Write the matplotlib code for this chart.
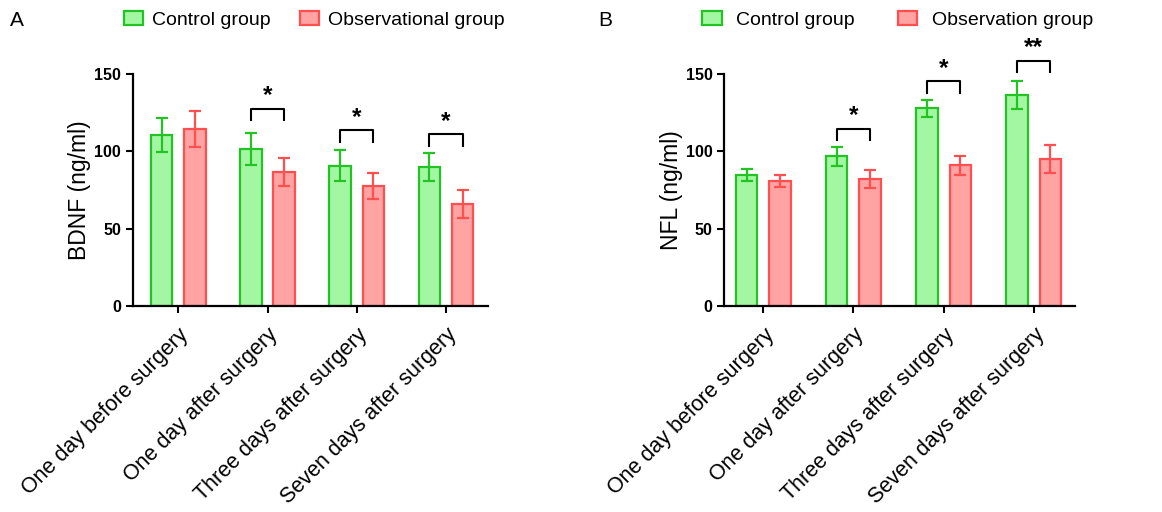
import matplotlib.pyplot as plt
import matplotlib.transforms as mtransforms
import numpy as np

plt.rcParams['font.family'] = ['Liberation Sans', 'DejaVu Sans']

# dados
categorias = ['One day before surgery', 'One day after surgery',
              'Three days after surgery', 'Seven days after surgery']

bdnf_controle = [110.5, 101.5, 90.8, 89.8]
bdnf_controle_err = [11, 10.5, 10, 9]
bdnf_obs = [114.5, 86.5, 77.5, 66]
bdnf_obs_err = [11.5, 9, 8.5, 9]

nfl_controle = [84.7, 96.7, 127.8, 136.5]
nfl_controle_err = [4, 6, 5.5, 9]
nfl_obs = [81, 82, 91, 95.2]
nfl_obs_err = [4, 6, 6, 9]

# significancia: (indice da categoria, altura do colchete, texto)
bdnf_sig = [(1, 127.5, '*'), (2, 113.5, '*'), (3, 111, '*')]
nfl_sig = [(1, 114.6, '*'), (2, 145.3, '*'), (3, 158.6, '**')]

verde_borda, verde = '#22c322', '#a3f7a3'
verm_borda, verm = '#ff4f4f', '#ffa3a3'

fig = plt.figure(figsize=(11.62, 5.12), dpi=100)
axA = fig.add_axes([0.1142, 0.4023, 0.3058, 0.4531])
axB = fig.add_axes([0.6233, 0.4023, 0.3020, 0.4531])


def painel(ax, ctrl, ctrl_err, obs, obs_err, sig, ylabel, nome_obs, xlim,
           leg_x, txtpad, colsp):
    x = np.arange(len(categorias))
    w = 0.24
    d = 0.186
    ax.bar(x - d, ctrl, w, color=verde, edgecolor=verde_borda, linewidth=1.6,
           label='Control group')
    ax.bar(x + d, obs, w, color=verm, edgecolor=verm_borda, linewidth=1.6,
           label=nome_obs)
    ax.errorbar(x - d, ctrl, yerr=ctrl_err, fmt='none', ecolor=verde_borda,
                elinewidth=1.6, capsize=4.3, capthick=1.6)
    ax.errorbar(x + d, obs, yerr=obs_err, fmt='none', ecolor=verm_borda,
                elinewidth=1.6, capsize=4.3, capthick=1.6)

    for i, h, txt in sig:
        x1, x2 = i - d, i + d
        ax.plot([x1, x1, x2, x2], [h - 7.5, h, h, h - 7.5], color='black',
                lw=1.5, clip_on=False)
        ax.text(i, h + 1.0, txt, ha='center', va='bottom', fontsize=17.5,
                fontweight='bold', clip_on=False)

    ax.set_ylim(0, 150)
    ax.set_yticks([0, 50, 100, 150])
    ax.set_xlim(*xlim)
    ax.set_xticks(x)
    ax.set_xticklabels(categorias, rotation=45, ha='right',
                       rotation_mode='anchor', fontsize=15.5)
    # desloca um pouco os rotulos para a esquerda/baixo
    desloc = mtransforms.ScaledTranslation(-5 / 100, -3 / 100, fig.dpi_scale_trans)
    for lbl in ax.get_xticklabels():
        lbl.set_transform(lbl.get_transform() + desloc)
    for lbl in ax.get_yticklabels():
        lbl.set_fontweight('bold')
        lbl.set_fontsize(11.5)
    ax.set_ylabel(ylabel, fontsize=16.5, labelpad=2)
    ax.spines['top'].set_visible(False)
    ax.spines['right'].set_visible(False)
    ax.spines['left'].set_linewidth(1.6)
    ax.spines['bottom'].set_linewidth(1.6)
    ax.tick_params(axis='both', direction='out', length=5, width=1.5)
    ax.tick_params(axis='x', pad=8)
    ax.legend(loc='center', bbox_to_anchor=(leg_x, 1.233), ncol=2,
              frameon=False, fontsize=14, handlelength=1.0, handleheight=0.7,
              handletextpad=txtpad, columnspacing=colsp)


painel(axA, bdnf_controle, bdnf_controle_err, bdnf_obs, bdnf_obs_err, bdnf_sig,
       'BDNF (ng/ml)', 'Observational group', (-0.51, 3.47), 0.51, 0.45, 1.5)
painel(axB, nfl_controle, nfl_controle_err, nfl_obs, nfl_obs_err, nfl_sig,
       'NFL (ng/ml)', 'Observation group', (-0.433, 3.46), 0.494, 0.75, 2.2)

fig.text(10 / 1162, 1 - 20 / 512, 'A', fontsize=15, va='center', ha='left')
fig.text(598 / 1162, 1 - 20 / 512, 'B', fontsize=15, va='center', ha='left')

fig.savefig('out.png', dpi=100)
